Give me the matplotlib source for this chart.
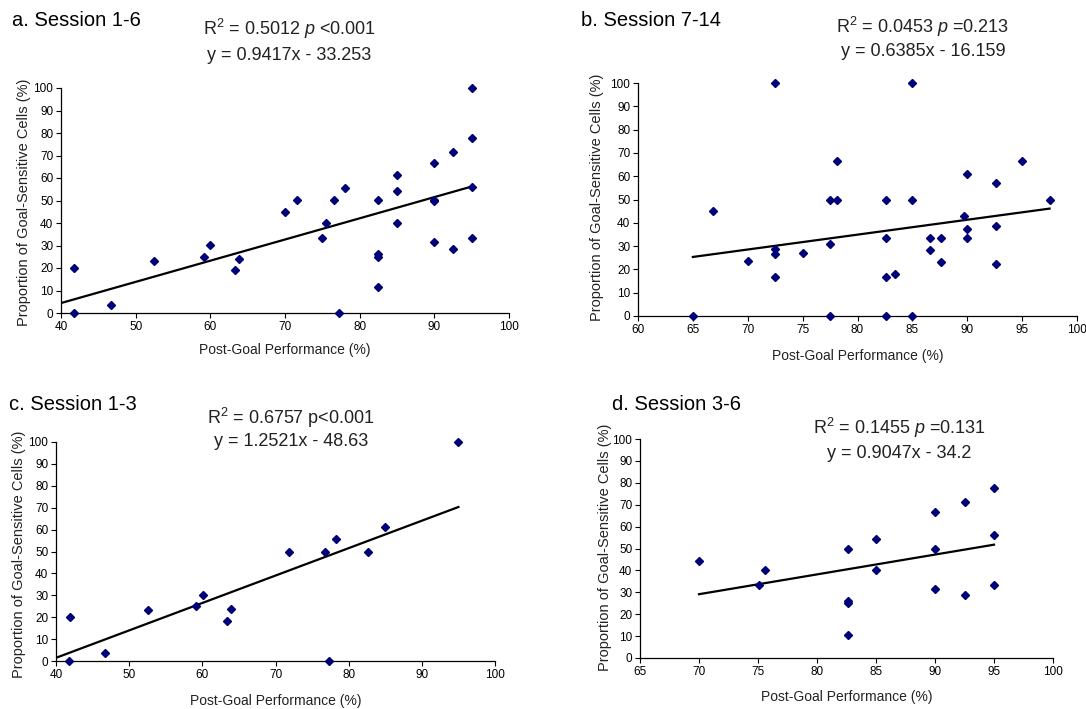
import numpy as np
import matplotlib
matplotlib.use("Agg")
import matplotlib.pyplot as plt
from matplotlib import font_manager

# --- data ---------------------------------------------------------------
# a. Session 1-6
a_x = [41.75, 41.75, 46.7, 52.5, 59.1, 59.9, 63.3, 63.9, 70.0, 71.6, 75.0, 75.5,
       76.6, 77.2, 78.1, 82.5, 82.5, 82.5, 82.5, 85.0, 85.0, 85.0, 90.0, 90.0,
       90.0, 90.0, 92.5, 92.5, 95.0, 95.0, 95.0, 95.0]
a_y = [19.8, 0.0, 3.7, 22.9, 25.1, 30.2, 18.9, 24.0, 44.8, 50.1, 33.4, 40.2,
       50.1, 0.0, 55.6, 50.1, 26.2, 25.1, 11.4, 61.5, 54.4, 40.2, 66.7, 50.3,
       49.6, 31.7, 71.7, 28.6, 100.0, 78.0, 56.0, 33.4]

# b. Session 7-14
b_x = [65.0, 66.8, 70.0, 72.5, 72.5, 72.5, 72.5, 75.0, 77.5, 77.5, 77.5, 78.1,
       78.1, 82.6, 82.6, 82.6, 82.6, 83.4, 85.0, 85.0, 85.0, 86.6, 86.6, 87.6,
       87.6, 89.7, 90.0, 90.0, 90.0, 92.6, 92.6, 92.6, 95.0, 97.5]
b_y = [0.0, 44.9, 23.6, 100.0, 28.9, 26.8, 16.7, 27.2, 49.8, 30.8, 0.0, 66.4,
       49.8, 49.8, 33.5, 16.7, 0.0, 18.0, 100.0, 50.0, 0.0, 33.5, 28.5, 33.5,
       23.0, 43.0, 61.0, 37.5, 33.5, 57.0, 38.5, 22.2, 66.4, 50.0]

# c. Session 1-3
c_x = [41.9, 41.8, 46.7, 52.6, 59.1, 60.1, 63.4, 63.9, 71.8, 76.7, 77.3, 78.3,
       82.6, 85.0, 95.0]
c_y = [19.9, 0.0, 3.5, 23.2, 25.2, 30.1, 18.4, 23.8, 49.8, 49.8, 0.0, 55.5,
       49.8, 61.0, 100.0]

# d. Session 3-6
d_x = [70.0, 75.1, 75.6, 82.6, 82.6, 82.6, 82.6, 85.0, 85.0, 90.0, 90.0, 90.0,
       92.5, 92.5, 95.0, 95.0, 95.0]
d_y = [44.3, 33.2, 40.1, 49.8, 26.0, 25.0, 10.7, 54.2, 40.0, 66.8, 49.9, 31.5,
       71.4, 28.8, 77.8, 56.2, 33.2]

titles = ["a. Session 1-6", "b. Session 7-14", "c. Session 1-3", "d. Session 3-6"]
r2_text = [r"R$^2$ = 0.5012 $\mathit{p}$ <0.001",
           r"R$^2$ = 0.0453 $\mathit{p}$ =0.213",
           r"R$^2$ = 0.6757 p<0.001",
           r"R$^2$ = 0.1455 $\mathit{p}$ =0.131"]
eq_text = ["y = 0.9417x - 33.253", "y = 0.6385x - 16.159",
           "y = 1.2521x - 48.63", "y = 0.9047x - 34.2"]
slopes = [0.9417, 0.6385, 1.2521, 0.9047]
intercepts = [-33.253, -16.159, -48.63, -34.2]
line_start = [40, 65, 40, 70]
line_end = [95, 97.5, 95, 95]
xlims = [(40, 100), (60, 100), (40, 100), (65, 100)]
xsteps = [10, 5, 10, 5]

# --- fonts -----------------------------------------------------------------
names = {f.name for f in font_manager.fontManager.ttflist}
narrow = "Liberation Sans Narrow" if "Liberation Sans Narrow" in names else "Liberation Sans"
plt.rcParams["font.family"] = ["Liberation Sans", "DejaVu Sans"]
plt.rcParams["mathtext.fontset"] = "custom"
plt.rcParams["mathtext.rm"] = narrow
plt.rcParams["mathtext.it"] = narrow + ":italic"

W, H = 1086, 709
fig = plt.figure(figsize=(W / 100, H / 100), dpi=100)


def px(x, y):
    return x / W, 1 - y / H


# axes boxes in pixels: left, top, right, bottom
boxes = [(61, 88, 509, 313), (638, 83, 1077, 316),
         (56, 442, 495, 661), (640, 439, 1053, 658)]
title_pos = [(12, 20), (581, 20), (9, 405), (612, 405)]
stat_pos = [(289, 29, 55), (923, 27, 52), (291, 418, 442), (899, 428, 454)]
ylab_pos = [(24, 202), (597, 197), (19, 554), (605, 547)]
xlab_y = [350, 356, 701, 697]

panels = [(a_x, a_y), (b_x, b_y), (c_x, c_y), (d_x, d_y)]

for i, (xs, ys) in enumerate(panels):
    l, t, r, b = boxes[i]
    ax = fig.add_axes([l / W, 1 - b / H, (r - l) / W, (b - t) / H])
    ax.plot(xs, ys, linestyle="none", marker="D", markersize=3.6,
            color="#000078", clip_on=False, zorder=3)
    # trend line
    lx = np.array([line_start[i], line_end[i]])
    ax.plot(lx, slopes[i] * lx + intercepts[i], color="black", lw=1.6, zorder=2)

    x0, x1 = xlims[i]
    ax.set_xlim(x0, x1)
    ax.set_ylim(0, 100)
    ax.set_xticks(np.arange(x0, x1 + 1, xsteps[i]))
    ax.set_yticks(np.arange(0, 101, 10))
    for s in ("top", "right"):
        ax.spines[s].set_visible(False)
    for s in ("left", "bottom"):
        ax.spines[s].set_linewidth(0.9)
    ax.tick_params(direction="out", length=3.5, width=0.8, pad=2,
                   labelsize=8.5, colors="black")
    for lab in ax.get_xticklabels() + ax.get_yticklabels():
        lab.set_family(narrow)

    tx, ty = px(*title_pos[i])
    fig.text(tx, ty, titles[i], fontsize=14.5, ha="left", va="center")
    sx, sy1, sy2 = stat_pos[i]
    fig.text(*px(sx, sy1), r2_text[i], fontsize=13, ha="center", va="center",
             family=narrow, color="#222222")
    fig.text(*px(sx, sy2), eq_text[i], fontsize=13, ha="center", va="center",
             family=narrow, color="#222222")
    fig.text(*px(*ylab_pos[i]), "Proportion of Goal-Sensitive Cells (%)",
             fontsize=10.5, rotation=90, ha="center", va="center", color="#222222")
    fig.text(*px((l + r) / 2, xlab_y[i]), "Post-Goal Performance (%)",
             fontsize=10, ha="center", va="center", color="#222222")

fig.savefig("out.png", dpi=100)
